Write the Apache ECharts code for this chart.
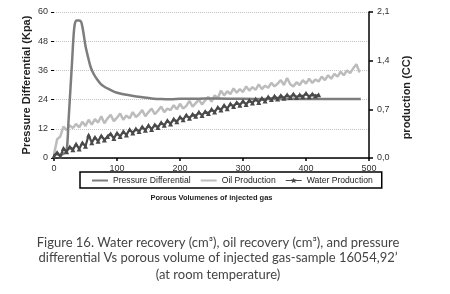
<!DOCTYPE html>
<html>
<head>
<meta charset="utf-8">
<script src="https://cdn.jsdelivr.net/npm/echarts@6/dist/echarts.min.js"></script>
<style>html,body{margin:0;padding:0;background:#fff;}#c{width:450px;height:294px;}</style>
</head>
<body>
<div id="c"></div>
<script>
// ---- data ----
const xTicks = [0, 100, 200, 300, 400, 500];
const leftTicks = [0, 12, 24, 36, 48, 60];
const rightTicks = ['0,0', '0,7', '1,4', '2,1'];

const pressureX = [0,5,10,15,20,23,26,29,31,33,36,40,43,45,47,50,54,58,63,68,74,80,88,96,105,115,126,140,155,170,185,200,230,260,300,340,380,420,460,487];
const pressureKpa = [1.0,1.5,1.2,1.8,3,15,28,41,50,55,56.5,56.5,56,54,51,46,41.5,37.5,34.5,32.5,30.5,29.3,28.2,27.2,26.5,26,25.5,25,24.5,24.2,24.1,24.3,24.4,24.5,24.3,24.2,24.3,24.2,24.2,24.2];

const oilX = [0,5,10,15,20,25,30,35,40,45,50,55,60,65,70,75,80,85,90,95,100,105,110,115,120,125,130,135,140,145,150,155,160,165,170,175,180,185,190,195,200,205,210,215,220,225,230,235,240,245,250,255,260,265,270,275,280,285,290,295,300,305,310,315,320,325,330,335,340,345,350,355,360,365,370,375,380,385,390,395,400,405,410,415,420,425,430,435,440,445,450,455,460,465,470,475,480,485];
const oilCC = [0.05,0.27,0.31,0.45,0.40,0.47,0.43,0.49,0.44,0.52,0.46,0.55,0.48,0.56,0.51,0.60,0.50,0.57,0.62,0.53,0.58,0.64,0.55,0.61,0.57,0.66,0.59,0.63,0.69,0.60,0.66,0.71,0.63,0.68,0.74,0.66,0.71,0.69,0.76,0.70,0.78,0.71,0.75,0.82,0.74,0.79,0.84,0.77,0.83,0.88,0.81,0.90,0.86,0.97,0.90,0.96,0.92,1.00,0.94,0.99,0.95,1.03,0.97,1.02,0.98,1.06,0.99,1.04,1.01,1.08,1.03,1.07,1.12,1.05,1.15,1.06,1.03,1.09,1.05,1.12,1.07,1.14,1.08,1.13,1.10,1.17,1.12,1.19,1.14,1.21,1.17,1.24,1.19,1.26,1.22,1.29,1.35,1.23];

const waterX = [0,5,10,15,20,25,30,35,40,45,50,55,60,65,70,75,80,85,90,95,100,105,110,115,120,125,130,135,140,145,150,155,160,165,170,175,180,185,190,195,200,205,210,215,220,225,230,235,240,245,250,255,260,265,270,275,280,285,290,295,300,305,310,315,320,325,330,335,340,345,350,355,360,365,370,375,380,385,390,395,400,405,410,415,420];
const waterCC = [0.03,0.08,0.02,0.14,0.09,0.16,0.12,0.20,0.13,0.22,0.17,0.33,0.22,0.30,0.24,0.32,0.26,0.31,0.35,0.28,0.36,0.31,0.38,0.33,0.41,0.36,0.42,0.38,0.45,0.40,0.47,0.41,0.48,0.44,0.51,0.47,0.54,0.49,0.56,0.52,0.59,0.55,0.62,0.57,0.63,0.60,0.66,0.61,0.67,0.64,0.70,0.66,0.73,0.69,0.76,0.71,0.78,0.74,0.80,0.76,0.82,0.77,0.83,0.79,0.85,0.80,0.86,0.82,0.88,0.84,0.89,0.85,0.90,0.86,0.91,0.87,0.92,0.87,0.91,0.88,0.93,0.88,0.92,0.89,0.91];

const seriesNames = ['Pressure Differential', 'Oil Production', 'Water Production'];
const xName = 'Porous Volumenes of injected gas';
const leftName = 'Pressure Differential (Kpa)';
const rightName = 'production (CC)';
const caption = [
  'Figure 16. Water recovery (cm\u00B3), oil recovery (cm\u00B3), and pressure',
  'differential Vs porous volume of injected gas-sample 16054,92\u2019',
  '(at room temperature)'
];

const zip = (xs, ys) => xs.map((x, i) => [x, ys[i]]);

const lineIcon = 'path://M0,0H0.01V0.01H0Z M0,9.99H0.01V10H0Z M0,3.8H20V6.2H0Z';
const starIcon = 'path://M0,0H0.01V0.01H0Z M0,9.99H0.01V10H0Z M0,4.3H20V5.7H0Z M10,1.5L11.2,3.8L13.6,3.8L11.8,5.6L12.5,8.2L10,6.8L7.5,8.2L8.2,5.6L6.4,3.8L8.8,3.8Z';

const chart = echarts.init(document.getElementById('c'), null, {renderer: 'canvas'});
const axisFont = {fontFamily: 'Liberation Sans', fontSize: 9, color: '#333'};
chart.setOption({
  animation: false,
  backgroundColor: '#fff',
  grid: {left: 54, right: 81, top: 12, bottom: 136},
  xAxis: {
    type: 'value', min: 0, max: 500, interval: 100,
    name: xName, nameLocation: 'middle', nameGap: 36, nameMoveOverlap: false,
    nameTextStyle: {fontFamily: 'Liberation Sans', fontSize: 7.5, fontWeight: 'bold', color: '#222'},
    axisLine: {show: true, lineStyle: {color: '#000', width: 1.5}},
    axisTick: {show: true, length: 3, lineStyle: {color: '#000', width: 1.5}},
    axisLabel: Object.assign({margin: 6, formatter: v => xTicks.includes(v) ? String(v) : ''}, axisFont),
    splitLine: {show: false}
  },
  yAxis: [{
    type: 'value', min: 0, max: 60, interval: 12,
    name: leftName, nameLocation: 'middle', nameGap: 22, nameMoveOverlap: false,
    nameTextStyle: {fontFamily: 'Liberation Sans', fontSize: 11, fontWeight: 'bold', color: '#222'},
    axisLine: {show: false},
    axisTick: {show: true, length: 3, lineStyle: {color: '#000'}},
    axisLabel: Object.assign({margin: 6, formatter: v => leftTicks.includes(v) ? String(v) : ''}, axisFont),
    splitLine: {show: true, lineStyle: {color: '#c4c4c4', width: 1, type: [1, 1]}}
  }, {
    type: 'value', min: 0, max: 2.1, interval: 0.7, position: 'right',
    name: rightName, nameLocation: 'middle', nameGap: 32, nameRotate: 90, nameMoveOverlap: false,
    nameTextStyle: {fontFamily: 'Liberation Sans', fontSize: 11, fontWeight: 'bold', color: '#222', padding: [0, 25, 0, 0]},
    axisLine: {show: true, lineStyle: {color: '#000', width: 1.5}},
    axisTick: {show: true, length: 4, lineStyle: {color: '#000', width: 1.5}},
    axisLabel: Object.assign({margin: 8, formatter: (v, i) => rightTicks[i] !== undefined ? rightTicks[i] : ''}, axisFont),
    splitLine: {show: false}
  }],
  legend: {
    left: 80, top: 172,
    padding: [4, 9, 3, 12],
    itemGap: 10, itemWidth: 16, itemHeight: 8,
    borderColor: '#000', borderWidth: 1.5, borderRadius: 0,
    textStyle: {fontFamily: 'Liberation Sans', fontSize: 8.6, color: '#222'},
    data: [
      {name: seriesNames[0], icon: lineIcon},
      {name: seriesNames[1], icon: lineIcon},
      {name: seriesNames[2], icon: starIcon}
    ]
  },
  series: [{
    name: seriesNames[1], type: 'line', yAxisIndex: 1, data: zip(oilX, oilCC),
    symbol: 'none', lineStyle: {color: '#bcbcbc', width: 2.5}, itemStyle: {color: '#bcbcbc'}, z: 2
  }, {
    name: seriesNames[0], type: 'line', yAxisIndex: 0, data: zip(pressureX, pressureKpa),
    symbol: 'none', smooth: 0.3, lineStyle: {color: '#7d7d7d', width: 2.5}, itemStyle: {color: '#7d7d7d'}, z: 3
  }, {
    name: seriesNames[2], type: 'line', yAxisIndex: 1, data: zip(waterX, waterCC),
    symbol: 'triangle', symbolSize: 5, showAllSymbol: true,
    lineStyle: {color: '#4a4a4a', width: 2.2}, itemStyle: {color: '#4a4a4a'}, z: 4
  }],
  graphic: caption.map((t, i) => ({
    type: 'text', x: 218, y: [236, 251, 268][i],
    style: {text: t, fontFamily: 'Lato', fontSize: 13, fill: '#444', align: 'center', textAlign: 'center'}
  }))
});
</script>
</body>
</html>
